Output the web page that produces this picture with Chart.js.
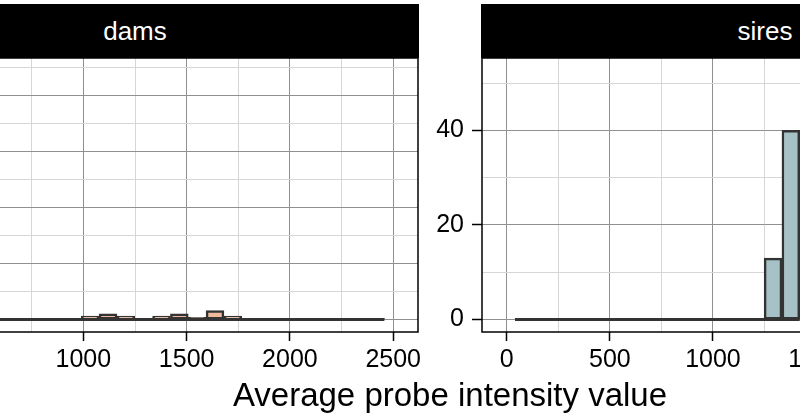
<!DOCTYPE html>
<html>
<head>
<meta charset="utf-8">
<script src="https://cdn.jsdelivr.net/npm/chart.js@4.4.1/dist/chart.umd.min.js"></script>
<style>
  html, body { margin:0; padding:0; width:800px; height:419px; overflow:hidden; background:#fff; position:relative;
    font-family:"Liberation Sans", Arial, Helvetica, sans-serif; }
  .wrap { position:absolute; top:28px; height:354px; }
  #wl { left:-208px; width:634px; }
  #wr { left:422px; width:633px; }
  .strip { position:absolute; top:4px; height:54px; background:#000; color:#fff; font-size:26px;
    display:flex; align-items:center; justify-content:center; }
  #sl { left:-149px; width:568px; }
  #sr { left:481px; width:568px; }
  #xt { position:absolute; left:0; width:900px; top:378px; text-align:center; font-size:33px; line-height:33px; color:#000; white-space:nowrap; }
</style>
</head>
<body>
<div class="strip" id="sl">dams</div>
<div class="strip" id="sr">sires</div>
<div class="wrap" id="wl"><canvas id="cl"></canvas></div>
<div class="wrap" id="wr"><canvas id="cr"></canvas></div>
<div id="xt">Average probe intensity value</div>
<script>
// ---- shared x axis ----
const xMajorTicks = [0, 500, 1000, 1500, 2000, 2500];
const xMinorTicks = [250, 750, 1250, 1750, 2250];
const xTickLabels = ['0', '500', '1000', '1500', '2000', '2500'];
const xLimits = [-120, 2620];

// ---- dams histogram (visible bins) ----
const damsBinCenters = [1033.2, 1119.5, 1205.8, 1292.1, 1378.4, 1464.7, 1551.0, 1637.3, 1723.6,
                        1809.9, 1896.2, 1982.5, 2068.8, 2155.1, 2241.4, 2327.7, 2414.0];
const damsCounts     = [3, 5, 3, 1, 3, 5, 2, 8, 3,
                        1, 0, 0, 0, 1, 0, 1, 1];
const damsDataRange  = [4.5, 2457.2];
const damsYMajor  = [0, 50, 100, 150, 200];
const damsYMinor  = [25, 75, 125, 175, 225];
const damsYLabels = ['0', '50', '100', '150', '200'];
const damsYLimits = [-11.1, 233.1];

// ---- sires histogram (visible bins) ----
const siresBinCenters = [83.2, 169.5, 255.8, 342.1, 428.4, 514.7, 601.0, 687.3, 773.6,
                         859.9, 946.2, 1032.5, 1118.8, 1205.1, 1291.4, 1377.7];
const siresCounts     = [0, 0, 0, 0, 0, 0, 0, 0, 0,
                         0, 0, 0, 0, 0, 13, 40];
const siresDataRange  = [40, 1420.8];
const siresYMajor  = [0, 20, 40];
const siresYMinor  = [10, 30, 50];
const siresYLabels = ['0', '20', '40'];
const siresYLimits = [-2.63, 55.3];

const MAJOR_GRID = '#909090';
const MINOR_GRID = '#d6d6d6';
const OUTLINE = '#333333';

const panelBorder = {
  id: 'panelBorder',
  afterDraw(chart) {
    const { ctx, chartArea: a } = chart;
    ctx.save();
    ctx.strokeStyle = '#000';
    ctx.lineWidth = 1.5;
    ctx.strokeRect(a.left, a.top, a.right - a.left, a.bottom - a.top);
    ctx.restore();
  }
};

function makeChart(id, centers, counts, range, fill, yMajor, yMinor, yLabels, yLim) {
  const xAll = xMajorTicks.concat(xMinorTicks).sort((a, b) => a - b);
  const yAll = yMajor.concat(yMinor).sort((a, b) => a - b);
  const font = { family: '"Liberation Sans", Arial, Helvetica, sans-serif', size: 25 };
  return new Chart(document.getElementById(id), {
    type: 'bar',
    data: {
      datasets: [
        {
          type: 'line',
          data: [{ x: range[0], y: 0 }, { x: range[1], y: 0 }],
          borderColor: OUTLINE,
          borderWidth: 3,
          pointRadius: 0,
          order: 0
        },
        {
          type: 'bar',
          data: centers.map((c, i) => ({ x: c, y: counts[i] })),
          backgroundColor: fill,
          borderColor: OUTLINE,
          borderWidth: 2.5,
          borderSkipped: false,
          barPercentage: 1,
          categoryPercentage: 1,
          order: 1
        }
      ]
    },
    options: {
      responsive: true,
      maintainAspectRatio: false,
      animation: false,
      events: [],
      layout: { padding: { top: 30, right: 8, left: 0, bottom: 0 } },
      plugins: { legend: { display: false }, tooltip: { enabled: false }, title: { display: false } },
      scales: {
        x: {
          type: 'linear',
          min: xLimits[0],
          max: xLimits[1],
          offset: false,
          afterBuildTicks: axis => { axis.ticks = xAll.map(v => ({ value: v })); },
          afterFit: axis => { axis.height = 50; },
          grid: {
            offset: false,
            color: c => xMajorTicks.includes(c.tick.value) ? MAJOR_GRID : MINOR_GRID,
            lineWidth: 1,
            tickLength: 9,
            tickColor: c => xMajorTicks.includes(c.tick.value) ? '#000' : 'rgba(0,0,0,0)',
            tickWidth: 1.5
          },
          border: { display: false },
          ticks: {
            autoSkip: false,
            maxRotation: 0,
            minRotation: 0,
            padding: 4,
            color: '#000',
            font: font,
            callback: v => { const i = xMajorTicks.indexOf(v); return i >= 0 ? xTickLabels[i] : ''; }
          }
        },
        y: {
          type: 'linear',
          min: yLim[0],
          max: yLim[1],
          afterBuildTicks: axis => { axis.ticks = yAll.map(v => ({ value: v })); },
          afterFit: axis => { axis.width = 60; },
          grid: {
            color: c => yMajor.includes(c.tick.value) ? MAJOR_GRID : MINOR_GRID,
            lineWidth: 1,
            tickLength: 10,
            tickColor: c => yMajor.includes(c.tick.value) ? '#000' : 'rgba(0,0,0,0)',
            tickWidth: 1.5
          },
          border: { display: false },
          ticks: {
            autoSkip: false,
            padding: 8,
            color: '#000',
            font: font,
            callback: v => { const i = yMajor.indexOf(v); return i >= 0 ? yLabels[i] : ''; }
          }
        }
      }
    },
    plugins: [panelBorder]
  });
}

makeChart('cl', damsBinCenters, damsCounts, damsDataRange, '#F0B99B',
          damsYMajor, damsYMinor, damsYLabels, damsYLimits);
makeChart('cr', siresBinCenters, siresCounts, siresDataRange, '#A7C2C6',
          siresYMajor, siresYMinor, siresYLabels, siresYLimits);
</script>
</body>
</html>
